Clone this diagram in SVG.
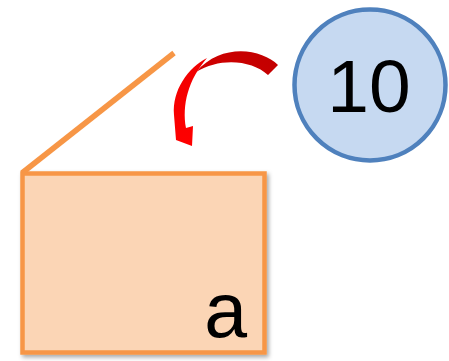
<svg xmlns="http://www.w3.org/2000/svg" width="449" height="361" viewBox="0 0 449 361">
<defs>
<filter id="sh" x="-10%" y="-10%" width="130%" height="130%">
<feDropShadow dx="2" dy="2.5" stdDeviation="2" flood-color="#000" flood-opacity="0.35"/>
</filter>
<linearGradient id="dark" x1="1" y1="0" x2="0" y2="0.3">
<stop offset="0" stop-color="#C00000"/>
<stop offset="1" stop-color="#D00000"/>
</linearGradient>
<linearGradient id="bright" x1="0" y1="0" x2="0" y2="1">
<stop offset="0" stop-color="#F00000"/>
<stop offset="1" stop-color="#FF0000"/>
</linearGradient>
<style>
.lbl{font-family:"Liberation Sans",Arial,sans-serif;fill:#000}
</style>
</defs>
<g id="box">
<rect x="22.5" y="173.5" width="242" height="179" fill="#FBD5B5" stroke="#F79646" stroke-width="4.5" filter="url(#sh)"/>
<text class="lbl" x="247" y="337" font-size="77" text-anchor="end">a</text>
</g>
<g id="lid">
<line x1="22" y1="173" x2="174" y2="53" stroke="#F79646" stroke-width="5.5"/>
</g>
<g id="circle10">
<circle cx="370" cy="85" r="75.5" fill="#C6D9F1" stroke="#4F81BD" stroke-width="4.5"/>
<text class="lbl" x="369" y="112" font-size="75" text-anchor="middle">10</text>
</g>
<g id="connectors">
<path d="M278,65 C262,49 222,42 196,72 C220,57 252,60 268,75 Z" fill="url(#dark)"/>
<path d="M207,58 C188,68 172,90 174,115 L176,140 L192,146 L193,126 L186,128 C182,105 188,80 207,58 Z" fill="url(#bright)"/>
</g>
</svg>
